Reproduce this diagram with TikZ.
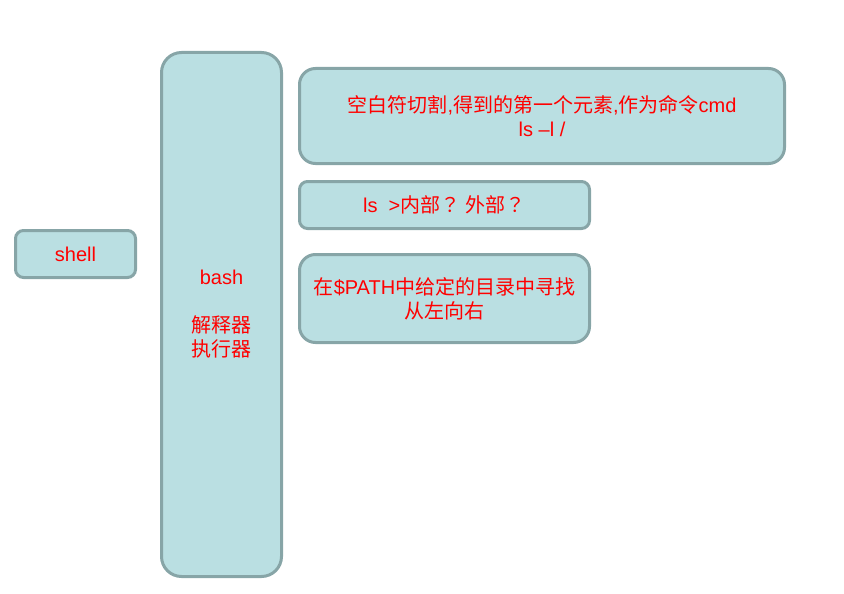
\documentclass[tikz,border=0pt]{standalone}
\usepackage{fontspec}
\setmainfont{Liberation Sans}
\newfontfamily\cjk{Noto Sans CJK SC}
\newfontfamily\cjktc{Noto Sans CJK TC}
\definecolor{boxfill}{HTML}{BADFE2}
\definecolor{boxline}{HTML}{87A5A7}
\definecolor{txtred}{HTML}{FF0000}
\begin{document}
\begin{tikzpicture}[x=1pt,y=-1pt,
  box/.style={draw=boxline, fill=boxfill, line width=3pt, text=txtred,
    font=\fontsize{20}{24}\selectfont, align=center, inner sep=0pt},
  smallr/.style={rounded corners=8pt},
  bigr/.style={rounded corners=16pt}]
\useasboundingbox (0,0) rectangle (844,594);
\node[box, smallr, minimum width=120pt, minimum height=47pt] (shell) at (75.5,254) {shell};
\node[box, rounded corners=20pt, minimum width=120pt, minimum height=524pt] (bash) at (221.5,314.5)
  {bash\\[24pt]{\cjk 解释器}\\{\cjk 执行器}};
\node[box, bigr, minimum width=485pt, minimum height=95pt] (split) at (542,116)
  {{\cjk 空白符切割}{,}{\cjk 得到的第一个元素}{,}{\cjk 作为命令}cmd\\ls –l /};
\node[box, smallr, minimum width=290pt, minimum height=47pt] (kind) at (444.5,205)
  {ls\ \ >{\cjk 内部}{\cjktc ？}\ {\cjk 外部}{\cjktc ？}};
\node[box, bigr, minimum width=290pt, minimum height=88pt] (path) at (444.5,298.5)
  {{\cjk 在}\$PATH{\cjk 中给定的目录中寻找}\\{\cjk 从左向右}};
\end{tikzpicture}
\end{document}
